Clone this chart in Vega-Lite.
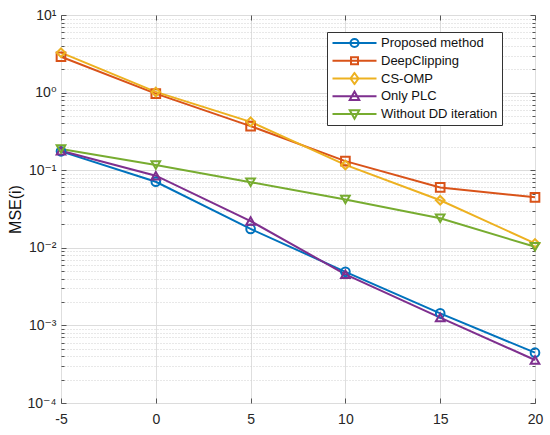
{
  "$schema": "https://vega.github.io/schema/vega-lite/v6.json",
  "width": 474,
  "height": 388,
  "autosize": {"type": "none"},
  "padding": {"left": 61, "top": 15, "right": 15, "bottom": 32},
  "background": "white",
  "config": {
    "font": "Liberation Sans",
    "view": {"stroke": "#555555", "strokeWidth": 1},
    "point": {"filled": false, "strokeWidth": 2, "size": 75, "opacity": 1},
    "axis": {
      "domain": false,
      "labelFont": "Liberation Sans, DejaVu Sans",
      "labelFontSize": 14,
      "labelColor": "#262626",
      "tickColor": "#555555",
      "labelOverlap": false,
      "labelFlush": false
    }
  },
  "data": {
    "values": [
      {"method": "Proposed method", "snr": -5, "mse": 0.175},
      {"method": "Proposed method", "snr": 0, "mse": 0.071},
      {"method": "Proposed method", "snr": 5, "mse": 0.0175},
      {"method": "Proposed method", "snr": 10, "mse": 0.0049},
      {"method": "Proposed method", "snr": 15, "mse": 0.00143},
      {"method": "Proposed method", "snr": 20, "mse": 0.000445},
      {"method": "DeepClipping", "snr": -5, "mse": 2.9},
      {"method": "DeepClipping", "snr": 0, "mse": 0.97},
      {"method": "DeepClipping", "snr": 5, "mse": 0.37},
      {"method": "DeepClipping", "snr": 10, "mse": 0.131},
      {"method": "DeepClipping", "snr": 15, "mse": 0.06},
      {"method": "DeepClipping", "snr": 20, "mse": 0.0447},
      {"method": "CS-OMP", "snr": -5, "mse": 3.27},
      {"method": "CS-OMP", "snr": 0, "mse": 1.02},
      {"method": "CS-OMP", "snr": 5, "mse": 0.42},
      {"method": "CS-OMP", "snr": 10, "mse": 0.117},
      {"method": "CS-OMP", "snr": 15, "mse": 0.041},
      {"method": "CS-OMP", "snr": 20, "mse": 0.0114},
      {"method": "Only PLC", "snr": -5, "mse": 0.178},
      {"method": "Only PLC", "snr": 0, "mse": 0.085},
      {"method": "Only PLC", "snr": 5, "mse": 0.0221},
      {"method": "Only PLC", "snr": 10, "mse": 0.00455},
      {"method": "Only PLC", "snr": 15, "mse": 0.00126},
      {"method": "Only PLC", "snr": 20, "mse": 0.000358},
      {"method": "Without DD iteration", "snr": -5, "mse": 0.187},
      {"method": "Without DD iteration", "snr": 0, "mse": 0.117},
      {"method": "Without DD iteration", "snr": 5, "mse": 0.07},
      {"method": "Without DD iteration", "snr": 10, "mse": 0.042},
      {"method": "Without DD iteration", "snr": 15, "mse": 0.024},
      {"method": "Without DD iteration", "snr": 20, "mse": 0.0103}
    ]
  },
  "layer": [
    {
      "mark": {"type": "line", "strokeWidth": 2},
      "encoding": {
        "x": {
          "field": "snr", "type": "quantitative",
          "scale": {"domain": [-5, 20], "nice": false, "zero": false},
          "axis": {
            "orient": "bottom", "title": null,
            "values": [-5, 0, 5, 10, 15, 20],
            "labelExpr": "toString(datum.value)",
            "grid": true, "gridColor": "#dedede",
            "tickSize": -5, "labelPadding": 14
          }
        },
        "y": {
          "field": "mse", "type": "quantitative",
          "scale": {"type": "log", "domain": [0.0001, 10], "nice": false},
          "axis": {
            "orient": "left",
            "title": "MSE(i)",
            "titleFont": "Liberation Sans",
            "titleFontSize": 16,
            "titleFontWeight": "normal",
            "titleColor": "#111111",
            "titlePadding": 4,
            "values": [0.0001, 0.0002, 0.0003, 0.0004, 0.0005, 0.0006, 0.0007, 0.0008, 0.0009,
                       0.001, 0.002, 0.003, 0.004, 0.005, 0.006, 0.007, 0.008, 0.009,
                       0.01, 0.02, 0.03, 0.04, 0.05, 0.06, 0.07, 0.08, 0.09,
                       0.1, 0.2, 0.3, 0.4, 0.5, 0.6, 0.7, 0.8, 0.9,
                       1, 2, 3, 4, 5, 6, 7, 8, 9, 10],
            "labelExpr": "datum.value == 10 ? '10¹' : datum.value == 1 ? '10⁰' : datum.value == 0.1 ? '10⁻¹' : datum.value == 0.01 ? '10⁻²' : datum.value == 0.001 ? '10⁻³' : datum.value == 0.0001 ? '10⁻⁴' : ''",
            "grid": true,
            "gridColor": {"condition": {"test": "indexof([0.0001, 0.001, 0.01, 0.1, 1, 10], datum.value) >= 0", "value": "#dcdcdc"}, "value": "#d0d0d0"},
            "gridDash": {"condition": {"test": "indexof([0.0001, 0.001, 0.01, 0.1, 1, 10], datum.value) >= 0", "value": []}, "value": [1, 2]},
            "tickSize": {"condition": {"test": "indexof([0.0001, 0.001, 0.01, 0.1, 1, 10], datum.value) >= 0", "value": -5}, "value": -3},
            "labelPadding": 10
          }
        },
        "color": {
          "field": "method", "type": "nominal",
          "scale": {
            "domain": ["Proposed method", "DeepClipping", "CS-OMP", "Only PLC", "Without DD iteration"],
            "range": ["#0072BD", "#D95319", "#EDB120", "#7E2F8E", "#77AC30"]
          },
          "legend": {
            "title": null,
            "orient": "none",
            "legendX": 266,
            "legendY": 17,
            "fillColor": "white",
            "strokeColor": "#333333",
            "padding": 4,
            "cornerRadius": 0,
            "labelFont": "Liberation Sans",
            "labelFontSize": 13,
            "labelColor": "#111111",
            "symbolSize": 100,
            "symbolOffset": 17,
            "labelOffset": 20,
            "clipHeight": 14,
            "rowPadding": 3.75,
            "symbolStrokeWidth": 2,
            "encode": {
              "symbols": {
                "update": {
                  "fill": {"value": "transparent"},
                  "strokeWidth": {"value": 2},
                  "shape": {"signal": "datum.value === 'Proposed method' ? 'M-4.4,0H4.4M0.8,0A0.8,0.8,0,1,1,-0.8,0A0.8,0.8,0,1,1,0.8,0Z' : datum.value === 'DeepClipping' ? 'M-4.4,0H4.4M-0.7,-0.7H0.7V0.7H-0.7Z' : datum.value === 'CS-OMP' ? 'M-4.4,0H4.4M0,-1.1L0.8,0L0,1.1L-0.8,0Z' : datum.value === 'Only PLC' ? 'M-4.4,0H4.4M0,-0.95L0.95,0.75L-0.95,0.75Z' : 'M-4.4,0H4.4M0,0.95L0.95,-0.75L-0.95,-0.75Z'"}
                }
              }
            }
          }
        }
      }
    },
    {
      "transform": [{"filter": "datum.method === 'Proposed method'"}],
      "mark": {"type": "point", "shape": "circle"},
      "encoding": {
        "x": {
          "field": "snr", "type": "quantitative",
          "axis": {
            "orient": "top", "title": null, "labels": false, "grid": false,
            "values": [-5, 0, 5, 10, 15, 20], "tickSize": -5
          }
        },
        "y": {
          "field": "mse", "type": "quantitative",
          "axis": {
            "orient": "right", "title": null, "labels": false, "grid": false,
            "values": [0.0001, 0.0002, 0.0003, 0.0004, 0.0005, 0.0006, 0.0007, 0.0008, 0.0009,
                       0.001, 0.002, 0.003, 0.004, 0.005, 0.006, 0.007, 0.008, 0.009,
                       0.01, 0.02, 0.03, 0.04, 0.05, 0.06, 0.07, 0.08, 0.09,
                       0.1, 0.2, 0.3, 0.4, 0.5, 0.6, 0.7, 0.8, 0.9,
                       1, 2, 3, 4, 5, 6, 7, 8, 9, 10],
            "tickSize": {"condition": {"test": "indexof([0.0001, 0.001, 0.01, 0.1, 1, 10], datum.value) >= 0", "value": -5}, "value": -3}
          }
        },
        "color": {"field": "method", "type": "nominal", "legend": null}
      }
    },
    {
      "transform": [{"filter": "datum.method === 'DeepClipping'"}],
      "mark": {"type": "point", "shape": "square"},
      "encoding": {
        "x": {"field": "snr", "type": "quantitative", "axis": null},
        "y": {"field": "mse", "type": "quantitative", "axis": null},
        "color": {"field": "method", "type": "nominal", "legend": null}
      }
    },
    {
      "transform": [{"filter": "datum.method === 'CS-OMP'"}],
      "mark": {"type": "point", "shape": "diamond"},
      "encoding": {
        "x": {"field": "snr", "type": "quantitative", "axis": null},
        "y": {"field": "mse", "type": "quantitative", "axis": null},
        "color": {"field": "method", "type": "nominal", "legend": null}
      }
    },
    {
      "transform": [{"filter": "datum.method === 'Only PLC'"}],
      "mark": {"type": "point", "shape": "triangle-up"},
      "encoding": {
        "x": {"field": "snr", "type": "quantitative", "axis": null},
        "y": {"field": "mse", "type": "quantitative", "axis": null},
        "color": {"field": "method", "type": "nominal", "legend": null}
      }
    },
    {
      "transform": [{"filter": "datum.method === 'Without DD iteration'"}],
      "mark": {"type": "point", "shape": "triangle-down"},
      "encoding": {
        "x": {"field": "snr", "type": "quantitative", "axis": null},
        "y": {"field": "mse", "type": "quantitative", "axis": null},
        "color": {"field": "method", "type": "nominal", "legend": null}
      }
    }
  ],
  "resolve": {"axis": {"x": "independent", "y": "independent"}}
}
